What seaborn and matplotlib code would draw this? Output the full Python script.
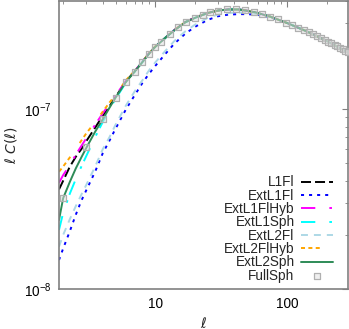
import matplotlib
matplotlib.use("Agg")
from matplotlib import pyplot as plt
from matplotlib import ticker
import seaborn as sns

sns.set_theme(style="white")
plt.rcParams['font.family'] = ['Liberation Sans', 'DejaVu Sans']
plt.rcParams['mathtext.fontset'] = 'dejavusans'
plt.rcParams['lines.scale_dashes'] = False
plt.rcParams['font.size'] = 9.8

# values, C in units of 1e-7
scale = 1e-7
ell = [1.86, 2, 2.25, 2.5, 2.75, 3, 3.5, 4, 4.5, 5, 6, 7, 8, 9, 10, 12, 14, 17, 20,
       25, 30, 36, 43, 50, 60, 75, 100, 140, 200, 290]

l1fl = [0.358, 0.40, 0.48, 0.545, 0.60, 0.665, 0.79, 0.92, 1.04, 1.17, 1.43, 1.63, 1.84, 2.05, 2.23,
        2.51, 2.76, 3.06, 3.23, 3.43, 3.54, 3.59, 3.59, 3.53, 3.43, 3.27, 3.02, 2.72, 2.40, 2.07]
extl1fl = [0.145, 0.168, 0.21, 0.26, 0.31, 0.355, 0.45, 0.57, 0.67, 0.78, 1.00, 1.20, 1.40, 1.58, 1.74,
           2.04, 2.32, 2.64, 2.87, 3.14, 3.29, 3.36, 3.38, 3.38, 3.35, 3.25, 3.02, 2.72, 2.40, 2.07]
extl1flhyb = [0.39, 0.43, 0.49, 0.56, 0.625, 0.69, 0.82, 0.95, 1.07, 1.19, 1.44, 1.63, 1.84, 2.05, 2.23,
              2.51, 2.76, 3.06, 3.23, 3.43, 3.54, 3.59, 3.59, 3.53, 3.43, 3.27, 3.02, 2.72, 2.40, 2.07]
extl1sph = [0.213, 0.265, 0.34, 0.41, 0.48, 0.55, 0.70, 0.85, 1.00, 1.14, 1.41, 1.62, 1.83, 2.04, 2.22,
            2.50, 2.75, 3.05, 3.22, 3.43, 3.54, 3.59, 3.59, 3.53, 3.43, 3.27, 3.02, 2.72, 2.40, 2.07]
extl2fl = [0.172, 0.20, 0.245, 0.29, 0.335, 0.38, 0.48, 0.60, 0.70, 0.82, 1.05, 1.26, 1.45, 1.65, 1.82,
           2.12, 2.40, 2.72, 2.95, 3.22, 3.36, 3.43, 3.45, 3.44, 3.38, 3.26, 3.02, 2.72, 2.40, 2.07]
extl2flhyb = [0.449, 0.48, 0.54, 0.60, 0.67, 0.735, 0.85, 0.97, 1.09, 1.20, 1.45, 1.64, 1.84, 2.05, 2.23,
              2.51, 2.76, 3.06, 3.23, 3.43, 3.54, 3.59, 3.59, 3.53, 3.43, 3.27, 3.02, 2.72, 2.40, 2.07]
extl2sph = [0.242, 0.32, 0.395, 0.47, 0.54, 0.61, 0.75, 0.88, 1.02, 1.16, 1.42, 1.62, 1.83, 2.04, 2.22,
            2.50, 2.75, 3.05, 3.22, 3.43, 3.54, 3.59, 3.59, 3.53, 3.43, 3.27, 3.02, 2.72, 2.40, 2.07]

ell_full = [2, 3, 4, 5, 6, 7, 8, 9, 10, 11, 13, 15, 17, 20, 23, 26, 30, 35, 41, 48, 56, 65, 75, 86,
            98, 110, 122, 134, 146, 158, 170, 182, 194, 206, 218, 230, 242, 254, 266, 278, 290]
fullsph = [0.32, 0.615, 0.88, 1.16, 1.42, 1.62, 1.83, 2.04, 2.22, 2.36, 2.63, 2.86, 3.05, 3.22, 3.36,
           3.46, 3.54, 3.59, 3.60, 3.55, 3.47, 3.38, 3.27, 3.16, 3.03, 2.93, 2.83, 2.75, 2.68, 2.62,
           2.55, 2.49, 2.43, 2.38, 2.33, 2.29, 2.25, 2.20, 2.16, 2.11, 2.07]

series = [
    ("L1Fl", l1fl, "black", (0, (7.2, 2.9))),
    ("ExtL1Fl", extl1fl, "#0000ff", (0, (2.2, 3.6))),
    ("ExtL1FlHyb", extl1flhyb, "#ff00ff", (0, (10.3, 10.1, 1.9, 4.1))),
    ("ExtL1Sph", extl1sph, "#00ffff", (0, (10.3, 10.1, 1.9, 4.1))),
    ("ExtL2Fl", extl2fl, "#add8e6", (0, (5.0, 4.3))),
    ("ExtL2FlHyb", extl2flhyb, "#ffa500", (0, (2.9, 2.4, 2.9, 2.4, 2.9, 12.0))),
    ("ExtL2Sph", extl2sph, "#2e8b57", "-"),
]

fig = plt.figure(figsize=(3.49, 3.29), dpi=100)
ax = fig.add_axes([59 / 349, 40 / 329, 289 / 349, 288 / 329])
ax.set_xscale('log')
ax.set_yscale('log')

for name, vals, col, ls in series:
    sns.lineplot(x=ell, y=[v * scale for v in vals], ax=ax, color=col, lw=1.4,
                 linestyle=ls, label=name, estimator=None, sort=False)

sns.scatterplot(x=ell_full, y=[v * scale for v in fullsph], ax=ax, marker='s', s=13,
                facecolor=(0.88, 0.88, 0.88, 0.5), edgecolor='#b0b0b0', linewidth=0.9,
                label="FullSph", zorder=3)

ax.set_xlim(1.86, 291)
ax.set_ylim(1e-8, 4e-7)

ax.xaxis.set_major_formatter(ticker.FormatStrFormatter('%g'))
ax.xaxis.set_minor_formatter(ticker.NullFormatter())
ax.yaxis.set_minor_formatter(ticker.NullFormatter())
ax.tick_params(which='both', direction='in', top=True, right=True, color='#808080',
               labelsize=9.8, labelcolor='black')
ax.tick_params(which='major', length=4, width=0.8)
ax.tick_params(which='minor', length=2.5, width=0.6)
ax.tick_params(axis='x', pad=6)
ax.tick_params(axis='y', pad=5)
for sp in ax.spines.values():
    sp.set_color('#808080')
    sp.set_linewidth(1.2)

ax.set_xlabel(r'$\ell$', fontsize=10, labelpad=3)
ax.set_ylabel(r'$\ell\ C(\ell)$', fontsize=10, labelpad=4)

ax.legend(loc='lower right', bbox_to_anchor=(0.947, 0.022), markerfirst=False, frameon=False,
          handlelength=2.3, handletextpad=0.5, labelspacing=-0.05, borderpad=0,
          borderaxespad=0, fontsize=9.8)

fig.savefig('out.png', dpi=100)
